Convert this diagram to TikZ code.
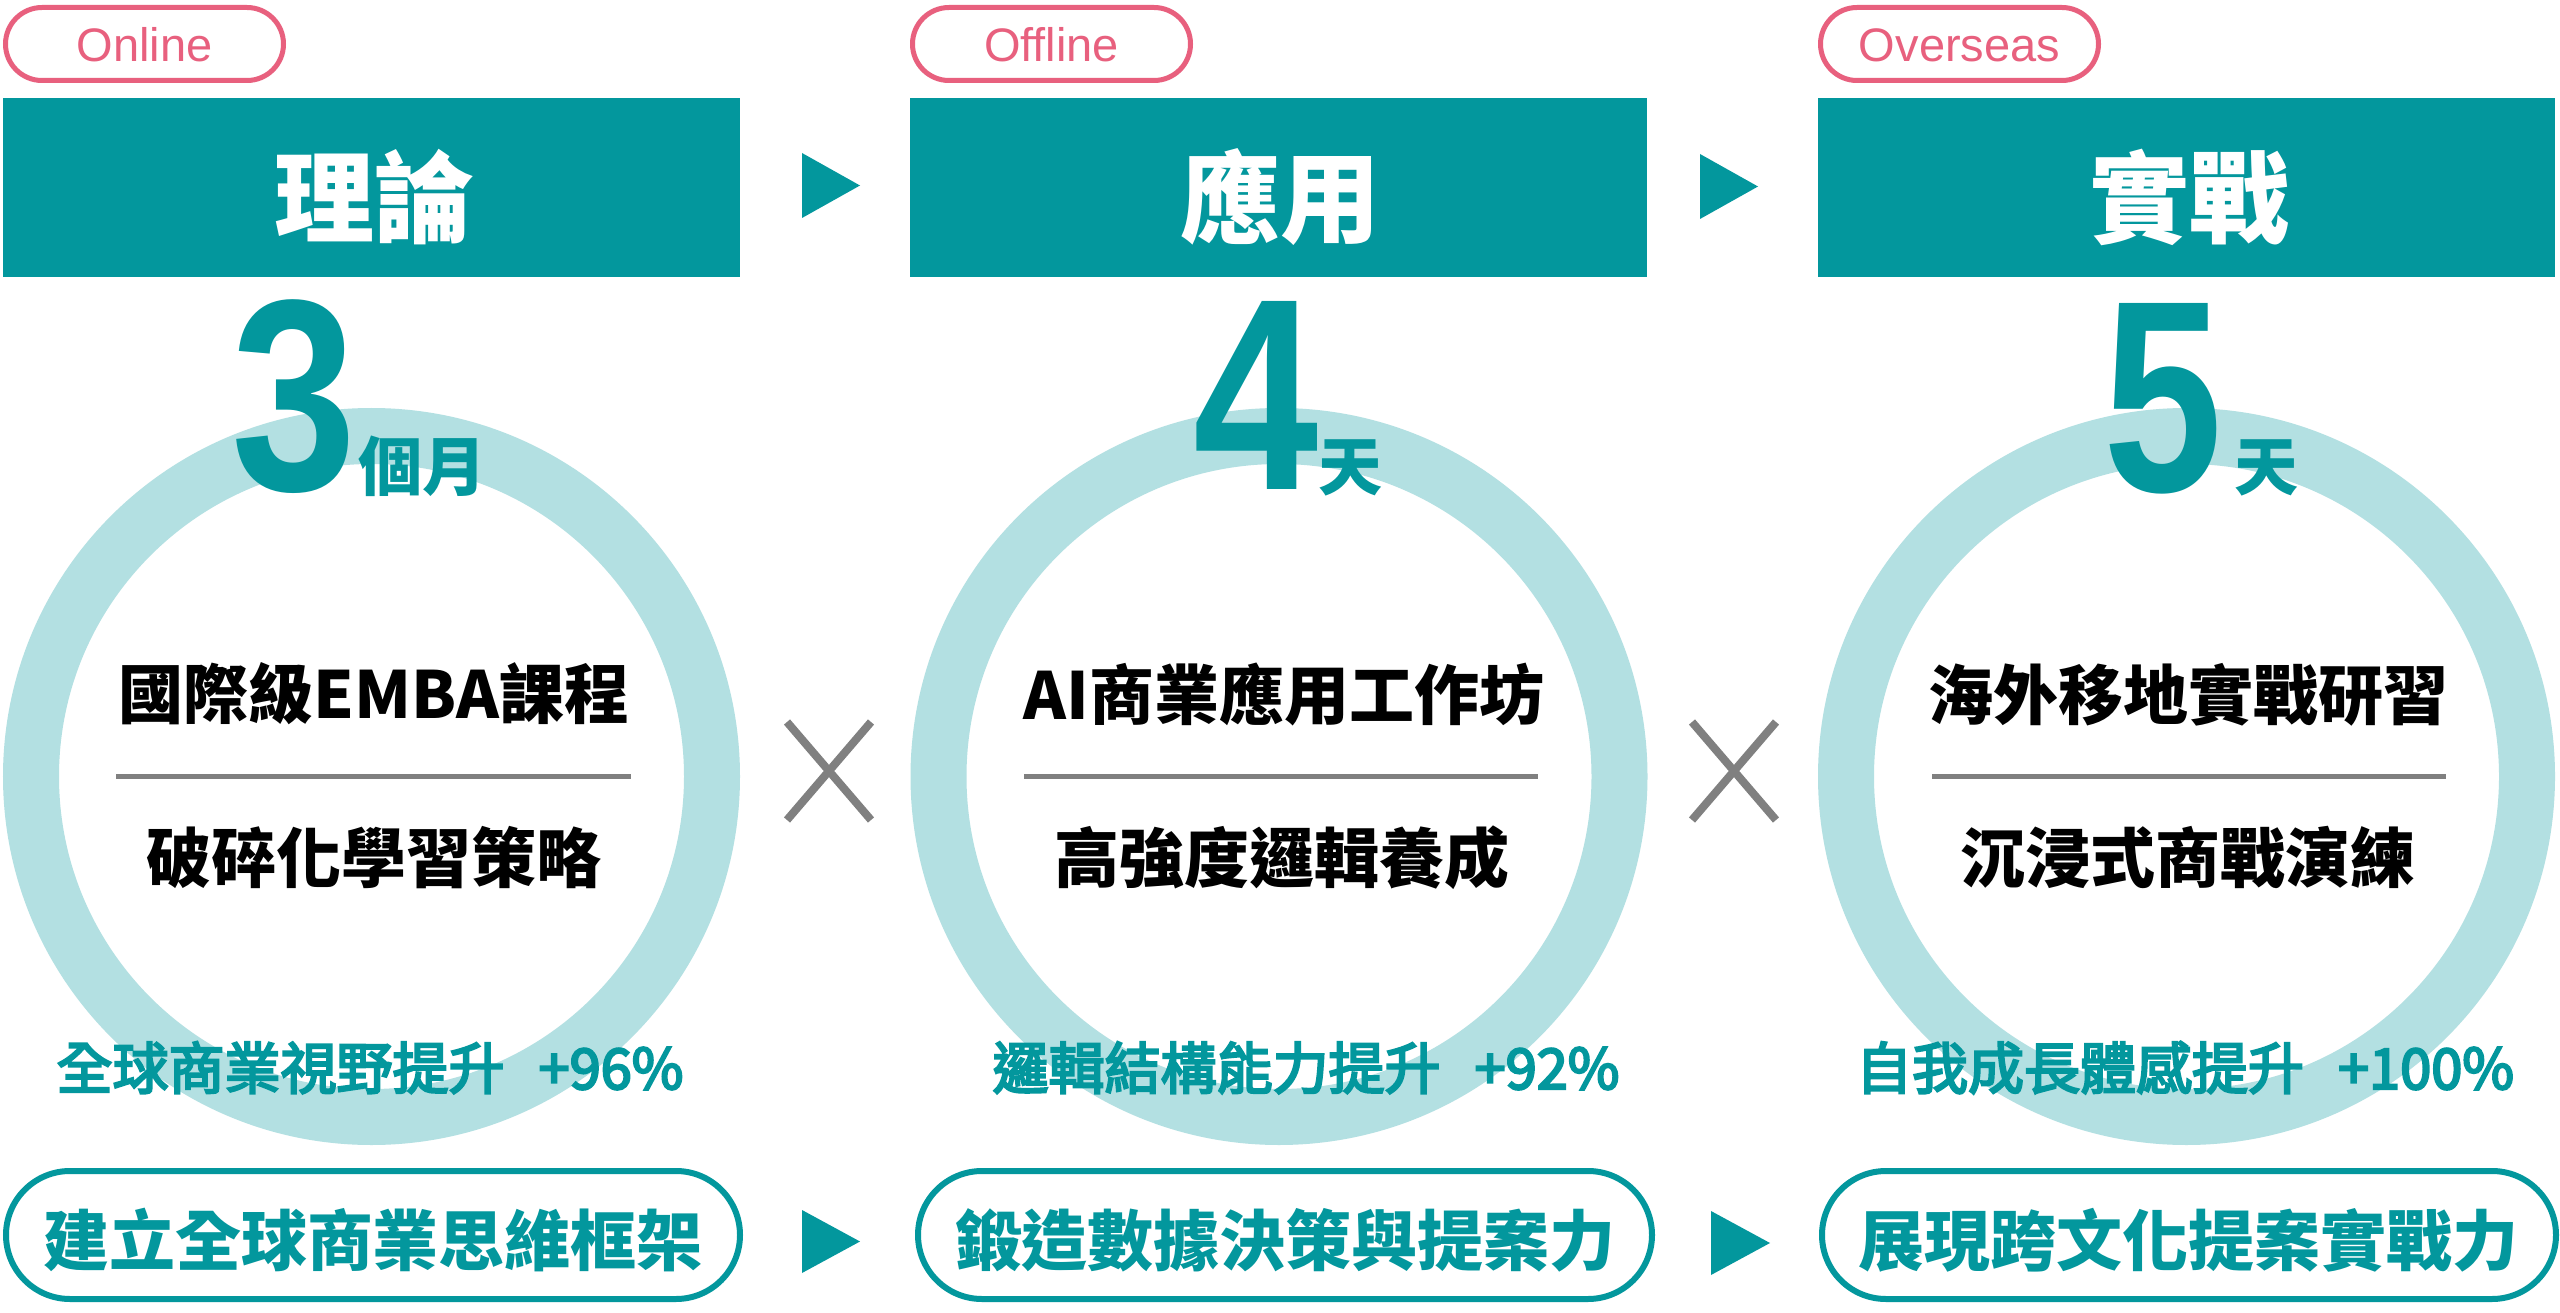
\documentclass[tikz,border=0pt]{standalone}
\usepackage{fontspec}
\usepackage{graphicx}
\setmainfont{Liberation Sans}
\newfontfamily\cjk{Noto Sans CJK TC}
\newfontfamily\cjkmed{Noto Sans CJK TC}[FakeBold=4]
\newfontfamily\numfont{Liberation Sans}
\definecolor{tealc}{RGB}{3,151,157}
\definecolor{ringc}{RGB}{179,224,226}
\definecolor{pinkc}{RGB}{232,96,126}
\definecolor{grayc}{RGB}{128,128,128}
\begin{document}
\begin{tikzpicture}[x=1pt,y=-1pt,
  every node/.style={inner sep=0pt,outer sep=0pt},
  tagpill/.style={draw=pinkc,line width=5pt,rounded corners=36.5pt,minimum width=278pt,minimum height=73pt,anchor=north west,fill=white},
  tagtxt/.style={anchor=base,text=pinkc,font=\fontsize{47}{47}\selectfont},
  headbox/.style={fill=tealc,minimum width=737pt,minimum height=179pt,anchor=north west},
  headtxt/.style={anchor=base,text=white,font=\cjk\bfseries\fontsize{100}{100}\selectfont},
  ring/.style={circle,draw=ringc,line width=56pt,minimum size=681pt},
  bignum/.style={anchor=base,text=tealc},
  unittxt/.style={anchor=base,text=tealc,font=\cjk\bfseries\fontsize{64}{64}\selectfont},
  bodytxt/.style={anchor=base,text=black,font=\cjk\bfseries\fontsize{65}{65}\selectfont},
  divider/.style={draw=grayc,line width=5pt},
  stattxt/.style={anchor=base,text=tealc,font=\cjkmed\fontsize{56}{56}\selectfont},
  outpill/.style={draw=tealc,line width=6pt,rounded corners=64pt,minimum width=734pt,minimum height=128pt,anchor=center,fill=white},
  outtxt/.style={anchor=base,text=tealc,font=\cjk\bfseries\fontsize{66}{66}\selectfont},
  flowtri/.style={fill=tealc},
  timesmark/.style={draw=grayc,line width=8pt}
]
\useasboundingbox (0,0) rectangle (2560,1313);
\fill[white] (0,0) rectangle (2560,1313);

% rings
\node (ring1) [ring] at (371.5,776.5) {};
\node (ring2) [ring] at (1279,776.5) {};
\node (ring3) [ring] at (2186.5,776.5) {};

% tag pills
\node (tag1) [tagpill] at (5.5,7.5) {};
\node (tag2) [tagpill] at (912.5,7.5) {};
\node (tag3) [tagpill] at (1820.5,7.5) {};
\node (tag1t) [tagtxt] at (144.5,62) {Online};
\node (tag2t) [tagtxt] at (1051.5,62) {Offline};
\node (tag3t) [tagtxt] at (1959.5,62) {Overseas};

% headers
\node (head1) [headbox] at (3,98) {};
\node (head2) [headbox] at (910,98) {};
\node (head3) [headbox] at (1818,98) {};
\node (head1t) [headtxt] at (374,236) {理論};
\node (head2t) [headtxt] at (1280,236) {應用};
\node (head3t) [headtxt] at (2189,236) {實戰};

% top arrows
\fill[flowtri] (802,153) -- (860,185.5) -- (802,218) -- cycle;
\fill[flowtri] (1700,154) -- (1758,186.5) -- (1700,219) -- cycle;

% big numbers
\node (num1) [bignum] at (294,490) {\scalebox{0.84}[1.02]{\numfont\bfseries\fontsize{268}{268}\selectfont 3}};
\node (num2) [bignum] at (1256,489) {\scalebox{0.84}[1.02]{\numfont\bfseries\fontsize{268}{268}\selectfont 4}};
\node (num3) [bignum] at (2163,491) {\scalebox{0.80}[1.02]{\numfont\bfseries\fontsize{268}{268}\selectfont 5}};
\node (unit1) [unittxt] at (422,490) {個月};
\node (unit2) [unittxt] at (1350,490) {天};
\node (unit3) [unittxt] at (2266,490) {天};

% body texts
\node (b1a) [bodytxt] at (374,718) {國際級EMBA課程};
\node (b2a) [bodytxt] at (1284,719) {AI商業應用工作坊};
\node (b3a) [bodytxt] at (2188,719) {海外移地實戰研習};
\draw[divider] (116,776) -- (631,776);
\draw[divider] (1024,776) -- (1538,776);
\draw[divider] (1932,776) -- (2446,776);
\node (b1b) [bodytxt] at (374,882) {破碎化學習策略};
\node (b2b) [bodytxt] at (1282,882) {高強度邏輯養成};
\node (b3b) [bodytxt] at (2188,882) {沉浸式商戰演練};

% times marks
\draw[timesmark] (787,722) -- (871,820) (871,722) -- (787,820);
\draw[timesmark] (1692,722) -- (1776,820) (1776,722) -- (1692,820);

% stats
\node (s1) [stattxt] at (370,1089) {全球商業視野提升\hspace{34pt}+96\%};
\node (s2) [stattxt] at (1306,1089) {邏輯結構能力提升\hspace{34pt}+92\%};
\node (s3) [stattxt] at (2185,1089) {自我成長體感提升\hspace{34pt}+100\%};

% outcome pills
\node (o1) [outpill] at (373,1235) {};
\node (o2) [outpill] at (1285,1235) {};
\node (o3) [outpill] at (2189,1235) {};
\node (o1t) [outtxt] at (373,1265) {建立全球商業思維框架};
\node (o2t) [outtxt] at (1285,1265) {鍛造數據決策與提案力};
\node (o3t) [outtxt] at (2188,1265) {展現跨文化提案實戰力};

% bottom arrows
\fill[flowtri] (802,1210) -- (860,1241.5) -- (802,1273) -- cycle;
\fill[flowtri] (1711,1211) -- (1770,1243) -- (1711,1275) -- cycle;
\end{tikzpicture}
\end{document}
